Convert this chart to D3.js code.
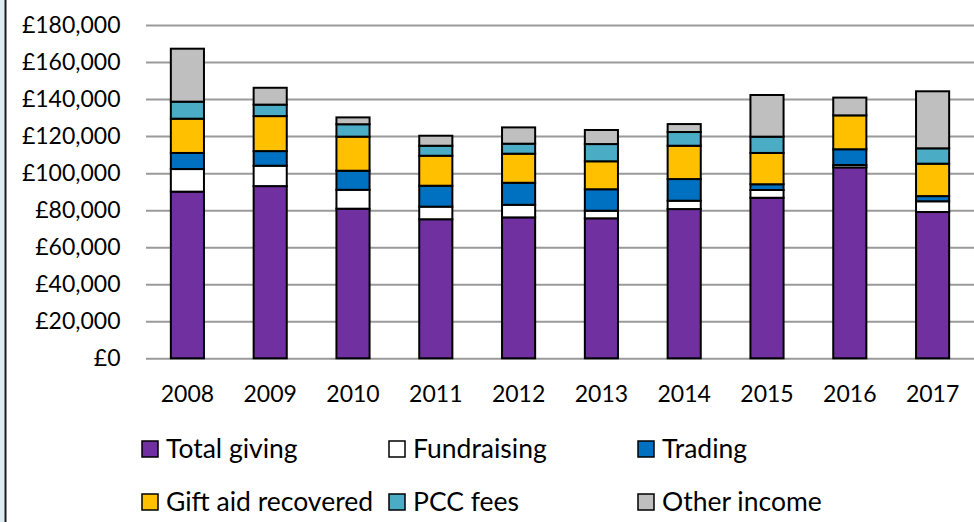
<!DOCTYPE html>
<html><head><meta charset="utf-8">
<script src="https://cdn.jsdelivr.net/npm/d3@7"></script>
<style>html,body{margin:0;padding:0;background:#fff;}svg{display:block;}</style>
</head><body>
<script>
const years = ["2008","2009","2010","2011","2012","2013","2014","2015","2016","2017"];
const seriesNames = ["Total giving","Fundraising","Trading","Gift aid recovered","PCC fees","Other income"];
const totalGiving = [90000,93000,80800,75100,76100,75600,80600,86700,103100,79000];
const fundraising = [12200,11000,10200,6800,6800,4100,4500,4200,1300,5800];
const trading     = [8700,7900,10300,11300,11900,11600,11700,3100,8500,2800];
const giftAid     = [18500,18900,18400,16200,15700,15100,18000,16900,18300,17500];
const pccFees     = [9200,6200,6700,5400,5400,9300,7400,8800,0,8300];
const otherIncome = [28600,9100,3700,5400,8800,7600,4300,22500,9600,30800];
const yTicks = [0,20000,40000,60000,80000,100000,120000,140000,160000,180000];
const colors = ["#7030a0","#ffffff","#0070c0","#ffc000","#4bacc6","#bfbfbf"];

const W = 974, H = 522;
const font = "Lato, 'Open Sans', sans-serif";
const svg = d3.select("body").append("svg").attr("width", W).attr("height", H);
svg.append("rect").attr("x",0).attr("y",0).attr("width",W).attr("height",H).attr("fill","#fff");
svg.append("rect").attr("x",0).attr("y",0).attr("width",4.5).attr("height",H).attr("fill","#deedf3");
svg.append("line").attr("x1",5.5).attr("x2",5.5).attr("y1",0).attr("y2",H).attr("stroke","#1a1a1a").attr("stroke-width",2);

const x = d3.scaleBand().domain(years).range([146, 974]).paddingInner(0.6).paddingOuter(0.3);
const y = d3.scaleLinear().domain([0,180000]).range([358.3, 25]);

const seriesArr = [totalGiving, fundraising, trading, giftAid, pccFees, otherIncome];
const rows = years.map((yr,i)=>{ const o={year:yr}; seriesNames.forEach((s,k)=>o[s]=seriesArr[k][i]); return o; });
const stacked = d3.stack().keys(seriesNames)(rows);

// gridlines + y labels
const yAxis = d3.axisLeft(y).tickValues(yTicks).tickSize(-(974-146)).tickPadding(25.5)
  .tickFormat(d=>"£"+d3.format(",")(d));
const gy = svg.append("g").attr("transform","translate(146,0)").call(yAxis);
gy.select(".domain").remove();
gy.selectAll(".tick line").attr("stroke","#9a9a9a").attr("stroke-width",2);
gy.selectAll(".tick text").attr("font-family",font).attr("font-size",23).attr("fill","#000");

// bars
stacked.forEach((layer,k)=>{
  svg.append("g").selectAll("rect").data(layer).join("rect")
    .attr("x", d=>x(d.data.year))
    .attr("y", d=>y(d[1]))
    .attr("width", x.bandwidth())
    .attr("height", d=>Math.max(0, y(d[0])-y(d[1])))
    .attr("fill", colors[k])
    .attr("stroke", d=> (d[1]-d[0])>0 ? "#000" : "none")
    .attr("stroke-width", 2);
});

// x axis labels
const xAxis = d3.axisBottom(x).tickSize(0).tickPadding(27);
const gx = svg.append("g").attr("transform","translate(0,358.3)").call(xAxis);
gx.select(".domain").remove();
gx.selectAll(".tick text").attr("font-family",font).attr("font-size",23).attr("fill","#000");

// legend
const legX = [141, 388, 637];
const legY = [440, 493];
seriesNames.forEach((s,k)=>{
  const cx = legX[k%3], cy = legY[Math.floor(k/3)];
  svg.append("rect").attr("x",cx+1).attr("y",cy+1).attr("width",16).attr("height",16)
    .attr("fill",colors[k]).attr("stroke","#000").attr("stroke-width",1.5);
  svg.append("text").attr("x",cx+25).attr("y",cy+18).attr("font-family",font).attr("font-size",26.5)
    .attr("fill","#000").text(s);
});
</script>
</body></html>
